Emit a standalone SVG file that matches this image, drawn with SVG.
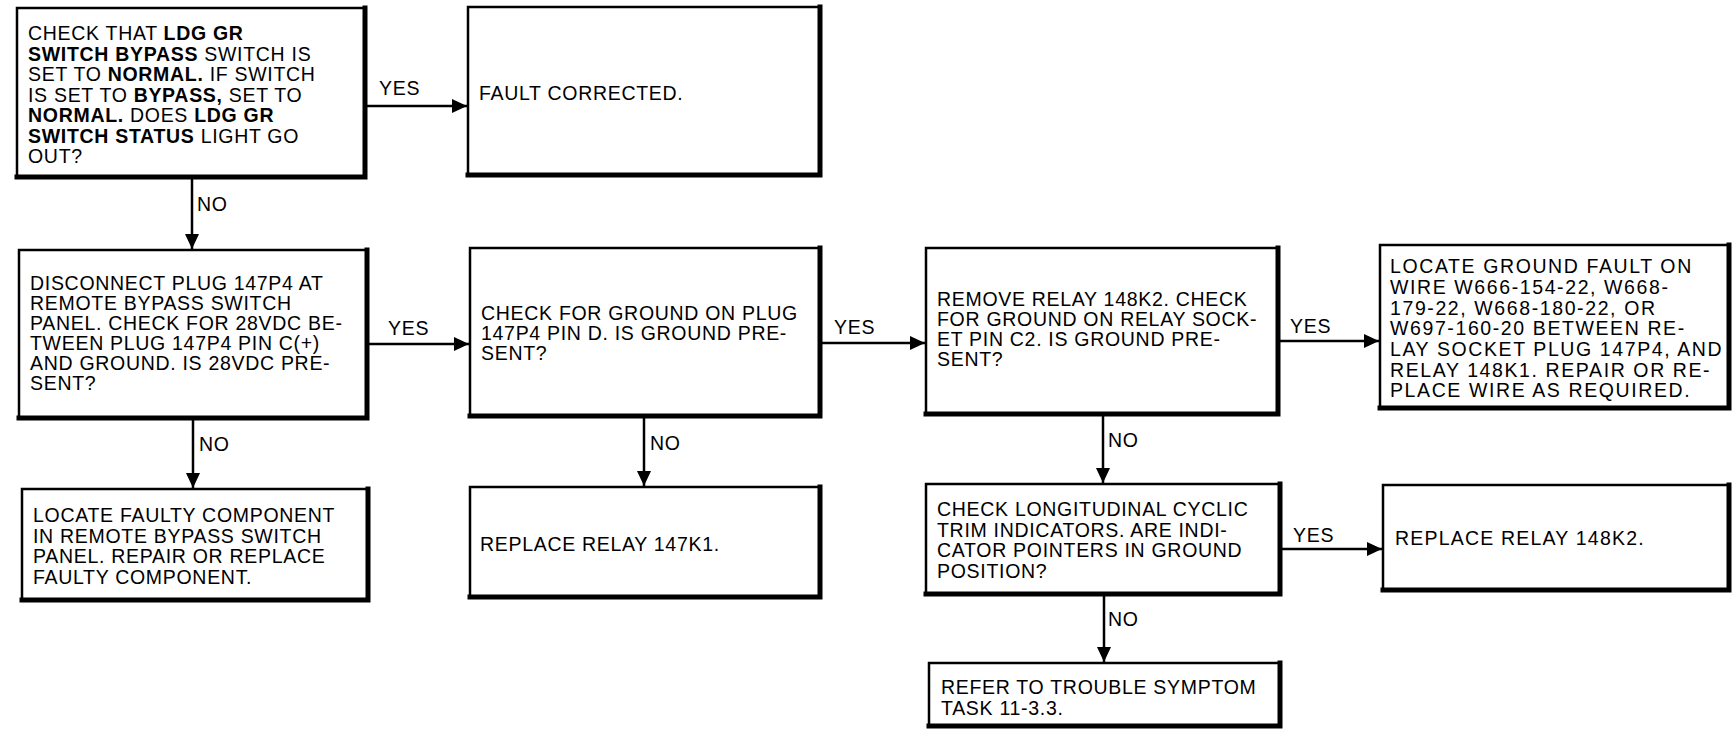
<svg xmlns="http://www.w3.org/2000/svg" width="1733" height="730" viewBox="0 0 1733 730">
<style>
  text { font-family: "Liberation Sans", Arial, sans-serif; font-size: 19.5px; fill: #000; letter-spacing: 0.7px; }
  .b { font-weight: bold; }
  .w { letter-spacing: 1.6px; }
  .w2 { letter-spacing: 1.2px; }
  .box { fill: #fff; stroke: #000; stroke-width: 2.5; }
  .sh { fill: none; stroke: #000; stroke-width: 5; stroke-linecap: square; }
  .con { fill: none; stroke: #000; stroke-width: 2.5; }
</style>
<defs>
  <marker id="ah" markerUnits="userSpaceOnUse" markerWidth="16" markerHeight="16" viewBox="0 0 16 16" refX="15" refY="8" orient="auto">
    <path d="M0 1 L15 8 L0 15 Z" fill="#000"/>
  </marker>
</defs>
<rect width="1733" height="730" fill="#fff"/>

<g id="connectors">
  <path class="con" d="M365 106 H467" marker-end="url(#ah)"/>
  <path class="con" d="M192 177 V249" marker-end="url(#ah)"/>
  <path class="con" d="M367 344 H469" marker-end="url(#ah)"/>
  <path class="con" d="M820 343 H925" marker-end="url(#ah)"/>
  <path class="con" d="M1278 341 H1379" marker-end="url(#ah)"/>
  <path class="con" d="M193 418 V488" marker-end="url(#ah)"/>
  <path class="con" d="M644 416 V486" marker-end="url(#ah)"/>
  <path class="con" d="M1103 414 V483" marker-end="url(#ah)"/>
  <path class="con" d="M1280 549 H1382" marker-end="url(#ah)"/>
  <path class="con" d="M1104 594 V662" marker-end="url(#ah)"/>
  <text x="379" y="95">YES</text>
  <text x="197" y="211">NO</text>
  <text x="388" y="335">YES</text>
  <text x="834" y="334">YES</text>
  <text x="1290" y="333">YES</text>
  <text x="199" y="451">NO</text>
  <text x="650" y="450">NO</text>
  <text x="1108" y="447">NO</text>
  <text x="1293" y="542">YES</text>
  <text x="1108" y="626">NO</text>
</g>

<g id="n1">
  <rect class="box" x="17" y="8" width="348" height="169"/>
  <path class="sh" d="M365 8 V177 H17"/>
  <text x="28" y="40">CHECK THAT <tspan class="b">LDG GR</tspan></text>
  <text x="28" y="60.5"><tspan class="b">SWITCH BYPASS</tspan> SWITCH IS</text>
  <text x="28" y="81">SET TO <tspan class="b">NORMAL.</tspan> IF SWITCH</text>
  <text x="28" y="101.5">IS SET TO <tspan class="b">BYPASS,</tspan> SET TO</text>
  <text x="28" y="122"><tspan class="b">NORMAL.</tspan> DOES <tspan class="b">LDG GR</tspan></text>
  <text x="28" y="142.5"><tspan class="b">SWITCH STATUS</tspan> LIGHT GO</text>
  <text x="28" y="163">OUT?</text>
</g>

<g id="n2">
  <rect class="box" x="468" y="7" width="352" height="168"/>
  <path class="sh" d="M820 7 V175 H468"/>
  <text x="479" y="100">FAULT CORRECTED.</text>
</g>

<g id="n3">
  <rect class="box" x="19" y="250" width="348" height="168"/>
  <path class="sh" d="M367 250 V418 H19"/>
  <text x="30" y="290">DISCONNECT PLUG 147P4 AT</text>
  <text x="30" y="310">REMOTE BYPASS SWITCH</text>
  <text x="30" y="330">PANEL. CHECK FOR 28VDC BE-</text>
  <text x="30" y="350">TWEEN PLUG 147P4 PIN C(+)</text>
  <text x="30" y="370">AND GROUND. IS 28VDC PRE-</text>
  <text x="30" y="390">SENT?</text>
</g>

<g id="n4">
  <rect class="box" x="470" y="248" width="350" height="168"/>
  <path class="sh" d="M820 248 V416 H470"/>
  <text x="481" y="320">CHECK FOR GROUND ON PLUG</text>
  <text x="481" y="340">147P4 PIN D. IS GROUND PRE-</text>
  <text x="481" y="360">SENT?</text>
</g>

<g id="n5">
  <rect class="box" x="926" y="248" width="352" height="166"/>
  <path class="sh" d="M1278 248 V414 H926"/>
  <text x="937" y="306">REMOVE RELAY 148K2. CHECK</text>
  <text x="937" y="326">FOR GROUND ON RELAY SOCK-</text>
  <text x="937" y="346">ET PIN C2. IS GROUND PRE-</text>
  <text x="937" y="366">SENT?</text>
</g>

<g id="n6">
  <rect class="box" x="1380" y="245" width="349" height="163"/>
  <path class="sh" d="M1729 245 V408 H1380"/>
  <text class="w" x="1390" y="273">LOCATE GROUND FAULT ON</text>
  <text class="w" x="1390" y="294">WIRE W666-154-22, W668-</text>
  <text class="w" x="1390" y="314.5">179-22, W668-180-22, OR</text>
  <text class="w" x="1390" y="335">W697-160-20 BETWEEN RE-</text>
  <text class="w" x="1390" y="356">LAY SOCKET PLUG 147P4, AND</text>
  <text class="w" x="1390" y="376.5">RELAY 148K1. REPAIR OR RE-</text>
  <text class="w" x="1390" y="397">PLACE WIRE AS REQUIRED.</text>
</g>

<g id="n7">
  <rect class="box" x="22" y="489" width="346" height="111"/>
  <path class="sh" d="M368 489 V600 H22"/>
  <text x="33" y="522">LOCATE FAULTY COMPONENT</text>
  <text x="33" y="542.5">IN REMOTE BYPASS SWITCH</text>
  <text x="33" y="563">PANEL. REPAIR OR REPLACE</text>
  <text x="33" y="583.5">FAULTY COMPONENT.</text>
</g>

<g id="n8">
  <rect class="box" x="470" y="487" width="350" height="110"/>
  <path class="sh" d="M820 487 V597 H470"/>
  <text x="480" y="551">REPLACE RELAY 147K1.</text>
</g>

<g id="n9">
  <rect class="box" x="926" y="484" width="354" height="110"/>
  <path class="sh" d="M1280 484 V594 H926"/>
  <text x="937" y="516">CHECK LONGITUDINAL CYCLIC</text>
  <text x="937" y="536.5">TRIM INDICATORS. ARE INDI-</text>
  <text x="937" y="557">CATOR POINTERS IN GROUND</text>
  <text x="937" y="577.5">POSITION?</text>
</g>

<g id="n10">
  <rect class="box" x="1383" y="485" width="346" height="105"/>
  <path class="sh" d="M1729 485 V590 H1383"/>
  <text class="w2" x="1395" y="545">REPLACE RELAY 148K2.</text>
</g>

<g id="n11">
  <rect class="box" x="929" y="663" width="351" height="63"/>
  <path class="sh" d="M1280 663 V726 H929"/>
  <text x="941" y="694">REFER TO TROUBLE SYMPTOM</text>
  <text x="941" y="715">TASK 11-3.3.</text>
</g>
</svg>
